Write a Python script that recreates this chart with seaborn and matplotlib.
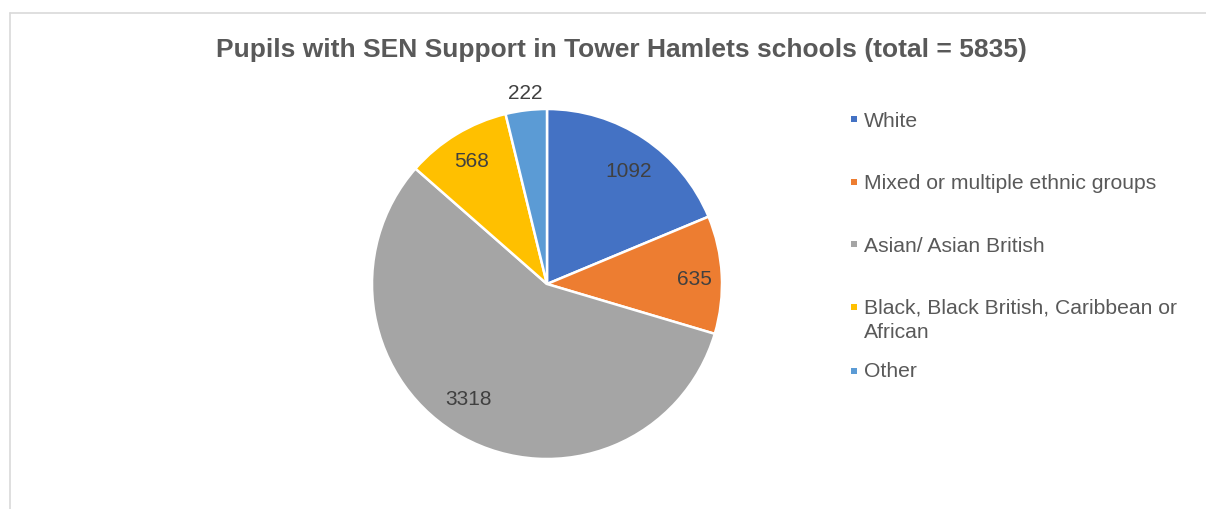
import matplotlib.pyplot as plt
from matplotlib.patches import Rectangle
import numpy as np
import seaborn as sns

# data
groups = ["White", "Mixed or multiple ethnic groups", "Asian/ Asian British",
          "Black, Black British, Caribbean or\nAfrican", "Other"]
pupils = [1092, 635, 3318, 568, 222]
colours = ["#4472C4", "#ED7D31", "#A5A5A5", "#FFC000", "#5B9BD5"]
total = sum(pupils)

sns.set_theme(style="white")
plt.rcParams['font.family'] = ['Liberation Sans', 'DejaVu Sans']

W, H = 1206, 509
fig = plt.figure(figsize=(W / 100, H / 100), dpi=100)

# pie centre (547, 284) px, radius 175 px
cx, cy, r = 547, 284, 175
ax = fig.add_axes([(cx - r) / W, (H - cy - r) / H, 2 * r / W, 2 * r / H])
wedges, _ = ax.pie(pupils, colors=colours, startangle=90, counterclock=False,
                   wedgeprops=dict(edgecolor="white", linewidth=1.8))
ax.set_xlim(-1, 1)
ax.set_ylim(-1, 1)
ax.set_aspect("equal")

# label placement (fraction of radius, angle nudge in degrees), like excel "best fit"
label_dist = [0.77, 0.84, 0.826, 0.796, 1.064]
label_nudge = [-3.6, -3.4, -4.2, 1.6, -0.2]
for w, v, d, n in zip(wedges, pupils, label_dist, label_nudge):
    mid = np.deg2rad((w.theta1 + w.theta2) / 2 + n)
    ax.text(d * np.cos(mid), d * np.sin(mid), str(v), ha="center", va="baseline",
            fontsize=15, color="#404040")

fig.text(621 / W, 1 - 57 / H, f"Pupils with SEN Support in Tower Hamlets schools (total = {total})",
         ha="center", va="baseline", fontsize=19, fontweight="bold", color="#595959")

# legend, placed like the spreadsheet one
marker_y = [119, 182, 244, 307, 371]
text_base = [127, 189, 252, 314, 377]
for g, c, my, ty in zip(groups, colours, marker_y, text_base):
    fig.add_artist(Rectangle((851 / W, 1 - (my + 3) / H), 6 / W, 6 / H,
                             transform=fig.transFigure, color=c, lw=0))
    for i, line in enumerate(g.split("\n")):
        fig.text(864 / W, 1 - (ty + 24 * i) / H, line, ha="left", va="baseline",
                 fontsize=15.2, color="#595959")

# chart area border
fig.add_artist(plt.Line2D([10 / W, 10 / W], [0, 1 - 13 / H], color="#d9d9d9", lw=1.2,
                          transform=fig.transFigure))
fig.add_artist(plt.Line2D([10 / W, 1], [1 - 13 / H, 1 - 13 / H], color="#d9d9d9", lw=1.2,
                          transform=fig.transFigure))

plt.savefig("out.png", dpi=100)
